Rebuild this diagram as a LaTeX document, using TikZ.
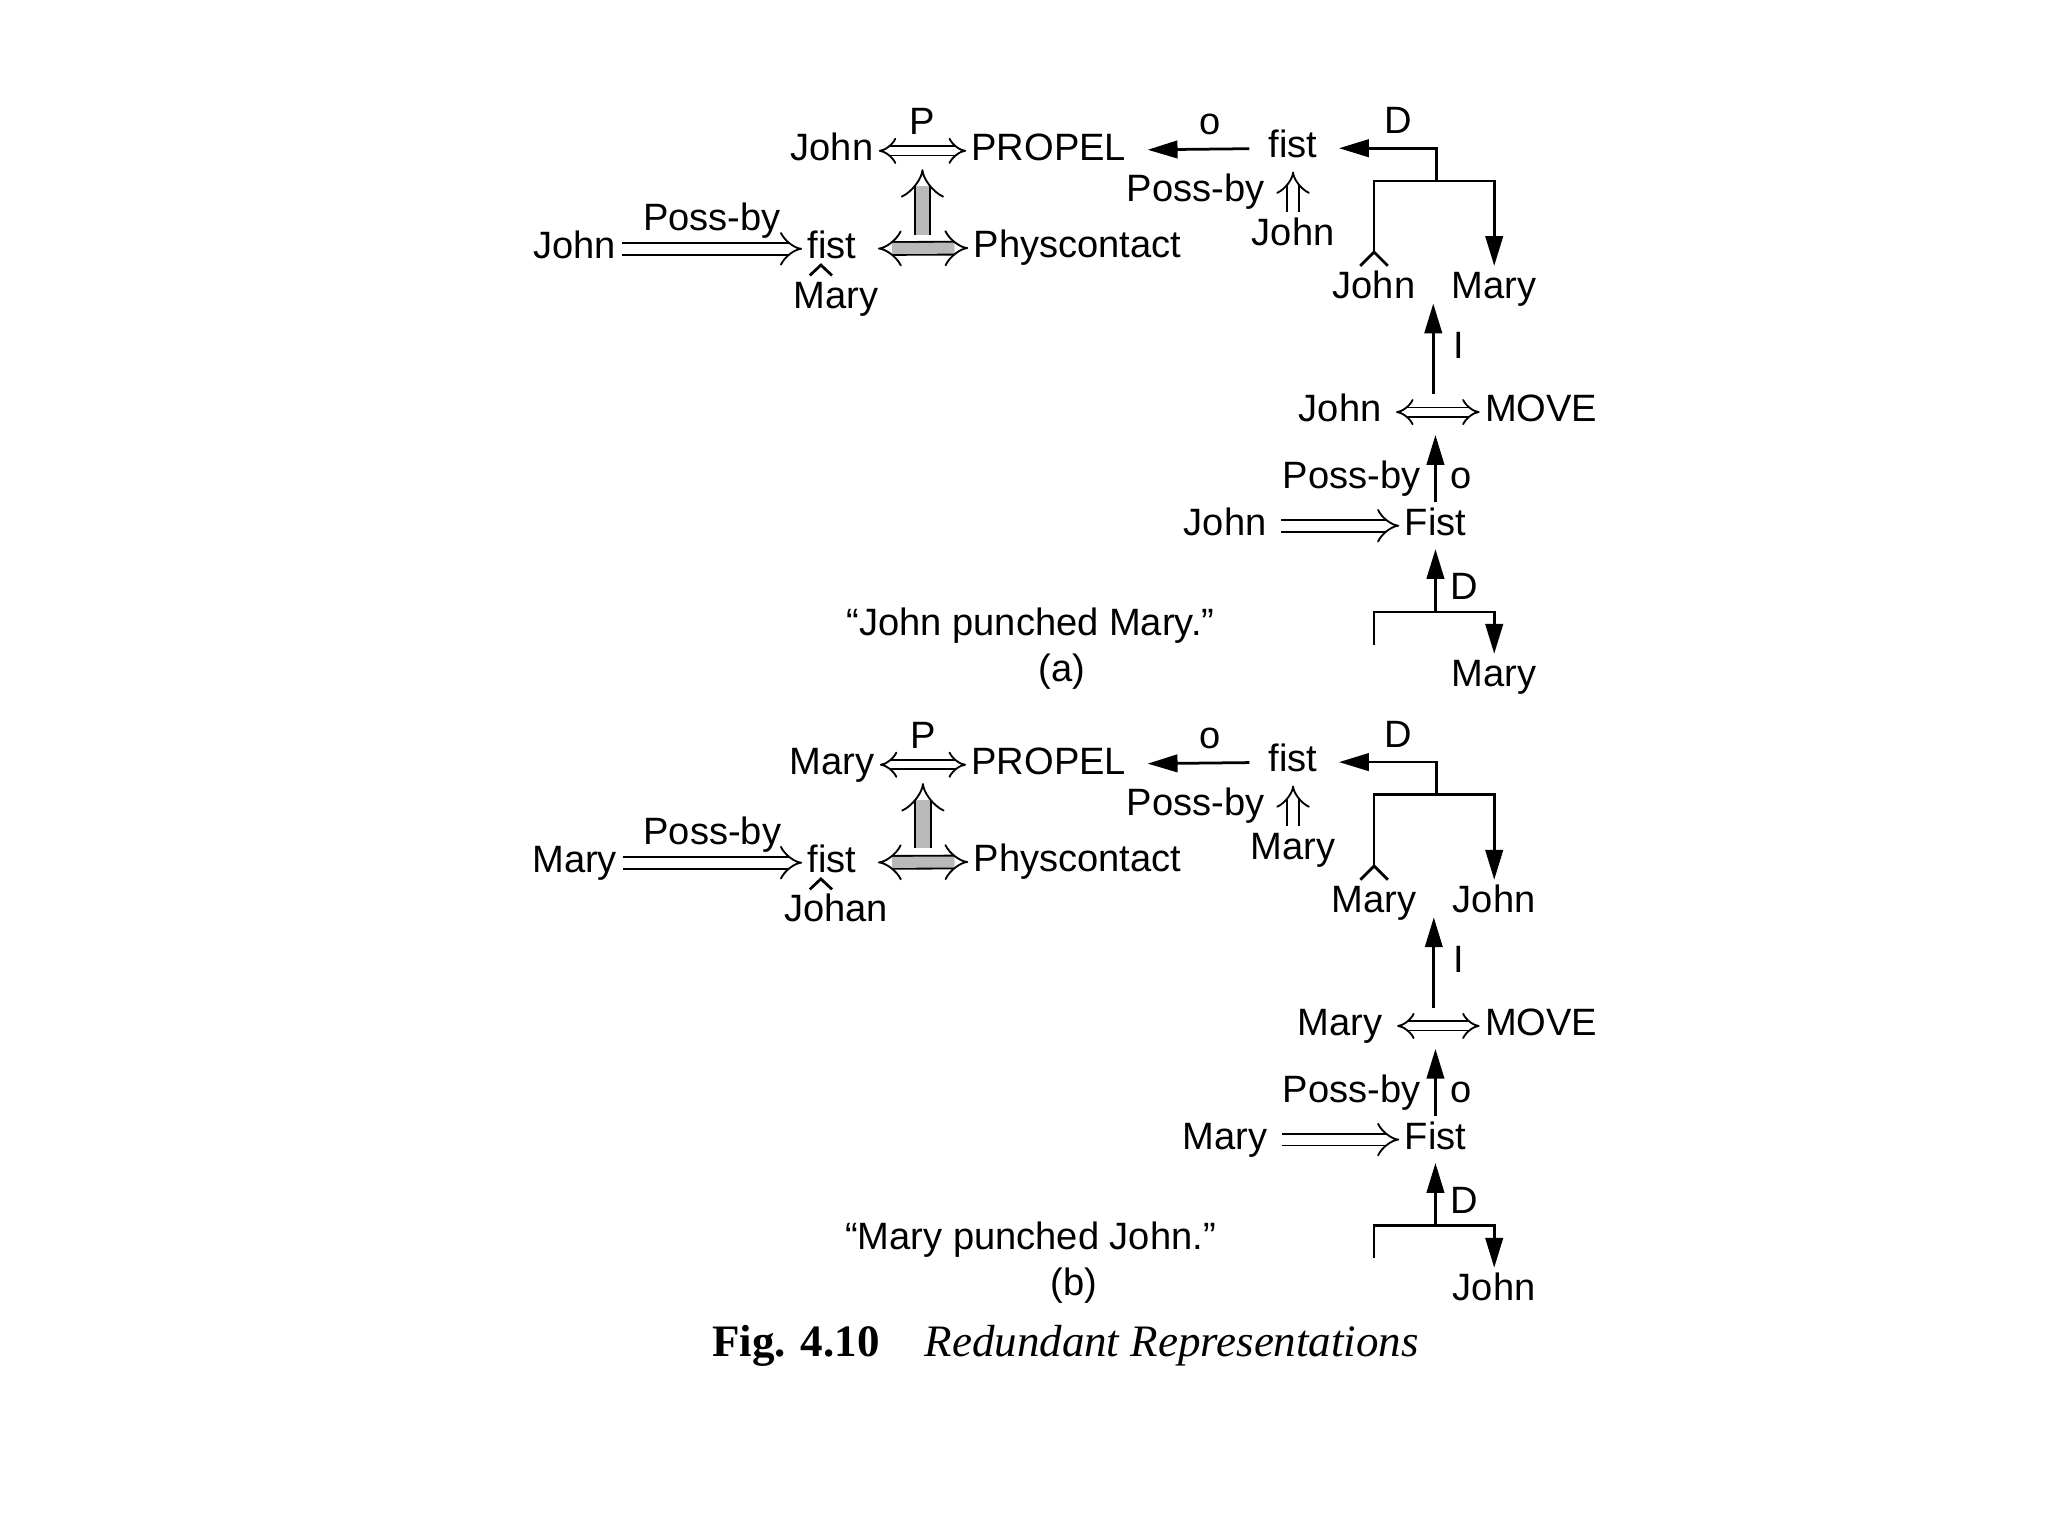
\documentclass[tikz,border=0pt]{standalone}
\usepackage{fontspec}
\setmainfont{Liberation Sans}
\newfontfamily\capfont{Liberation Serif}
\usetikzlibrary{arrows.meta}

\tikzset{
  word/.style={inner sep=1pt, text height=6pt, text depth=1.8pt},
  twoway/.style={double, double distance=1.6pt, {Implies}-{Implies}},
  heavyway/.style={double=gray!55, double distance=2.4pt, {Implies}-{Implies}},
  possby/.style={double, double distance=2.2pt, -{Implies}},
  causes/.style={double=gray!55, double distance=3pt, -{Implies}},
  solidarr/.style={semithick, -{Triangle[length=6.5pt,width=3.8pt]}},
}

\begin{document}
\begin{tikzpicture}[font=\fontsize{8.3}{10}\selectfont, every node/.style={word}]
  \useasboundingbox (0,0.035) rectangle (15.68,-11.725);
  \foreach \p/\dy/\ag/\ob/\un/\lx in {a/0/John/Mary/Mary/8.13, b/-4.70/Mary/John/Johan/8.22}{
  \begin{scope}[yshift=\dy cm]
    % PROPEL / Physcontact part
    \node (\p-ag) at (6.37,-1.12) {\ag};
    \node (\p-propel) at (8.03,-1.12) {PROPEL};
    \node (\p-owner) at (4.40,-1.87) {\ag};
    \node (\p-fist) at (6.37,-1.87) {fist};
    \node (\p-phys) at (8.25,-1.86) {Physcontact};
    \node (\p-hit) at (6.40,-2.25) {\un};
    \draw[twoway] (\p-ag) -- coordinate[midway] (\p-pm) node[midway, above=0.5pt] {P} (\p-propel);
    \draw[heavyway, shorten <=3.5pt] (\p-fist) -- coordinate[midway] (\p-cm) (\p-phys);
    \draw[causes] ([yshift=3pt]\p-pm |- \p-cm) -- ([yshift=-4pt]\p-pm);
    \draw[possby] (\p-owner) -- node[above=1pt] {Poss-by} (\p-fist);
    \draw[semithick] ([shift={(-0.17,-0.025)}]\p-fist.south) -- ++(0.085,0.08) -- ++(0.085,-0.08);
    % object fist and direction
    \node (\p-fistb) at (9.90,-1.10) {fist};
    \node (\p-holder) at (9.90,-1.77) {\ag};
    \node (\p-from) at (10.52,-2.18) {\ag};
    \node (\p-to) at (11.44,-2.18) {\ob};
    \draw[solidarr, shorten <=3pt, shorten >=3.5pt] (\p-fistb) -- node[pos=0.4, above=0pt] {o} (\p-propel);
    \draw[possby] (\p-holder) -- node[left=5pt] {Poss-by} (\p-fistb);
    \coordinate (\p-dsplit) at (11.00,-1.35);
    \draw[solidarr, shorten >=3.5pt] (\p-dsplit) |- node[pos=0.67, above] {D} (\p-fistb);
    \draw[solidarr] ([yshift=3pt]\p-from.north) |- (\p-dsplit) -| (\p-to);
    \draw[semithick] ([xshift=-3pt]\p-from.north) -- ([yshift=3pt]\p-from.north) -- ([xshift=3pt]\p-from.north);
    % instrument: MOVE
    \node (\p-mvag) at (10.26,-3.12) {\ag};
    \node (\p-move) at (11.80,-3.12) {MOVE};
    \node (\p-fister) at (9.38,-3.99) {\ag};
    \node (\p-fist2) at (10.99,-3.99) {Fist};
    \node (\p-obj) at (11.44,-5.15) {\ob};
    \draw[twoway, shorten <=2pt] (\p-mvag) -- coordinate[midway] (\p-mv) (\p-move);
    \draw[solidarr] ([yshift=4pt]\p-mv) -- node[right=3pt] {I} ([yshift=2pt]\p-mv |- \p-to.south);
    \draw[solidarr] (\p-fist2) -- node[pos=0.35, left=2pt] {Poss-by} node[pos=0.35, right=2pt] {o} ([yshift=-5pt]\p-fist2 |- \p-mv);
    \draw[possby, shorten <=2pt] (\p-fister) -- (\p-fist2);
    \coordinate (\p-bsplit) at (10.99,-4.65);
    \coordinate (\p-bfree) at (10.52,-4.90);
    \draw[solidarr] (\p-bsplit) -- node[pos=0.35, right=2pt] {D} (\p-fist2);
    \draw[solidarr] (\p-bfree) |- (\p-bsplit) -| (\p-obj);
    % sentence
    \node (\p-sent) at (7.89,-4.76) {“\ag\ punched \ob.”};
    \node (\p-tag) at (\lx,-5.11) {(\p)};
  \end{scope}
  }
  \node[font=\capfont\fontsize{9.8}{12}\selectfont, anchor=west] (figcap) at (5.41,-10.28) {\textbf{Fig. 4.10}\quad\textit{Redundant Representations}};
\end{tikzpicture}
\end{document}
